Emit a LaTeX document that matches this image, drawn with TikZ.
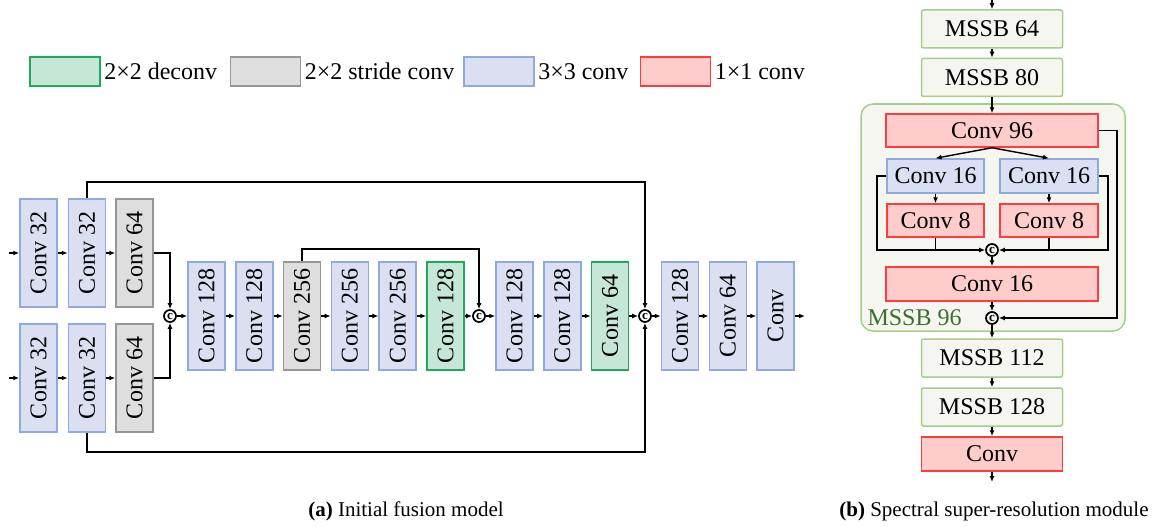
\documentclass[tikz,border=0pt]{standalone}
\usepackage{fontspec}
\setmainfont{Liberation Serif}
\usetikzlibrary{arrows.meta}
\definecolor{bluefill}{RGB}{218,224,242}
\definecolor{blueline}{RGB}{143,170,220}
\definecolor{grayfill}{RGB}{222,222,222}
\definecolor{grayline}{RGB}{150,150,150}
\definecolor{greenfill}{RGB}{198,231,213}
\definecolor{greenline}{RGB}{30,170,90}
\definecolor{redfill}{RGB}{255,204,204}
\definecolor{redline}{RGB}{255,60,60}
\definecolor{mssbfill}{RGB}{245,246,240}
\definecolor{mssbline}{RGB}{165,205,140}
\definecolor{mssblabel}{RGB}{60,110,50}

\begin{document}
\begin{tikzpicture}[x=1pt,y=-1pt,
  every node/.style={font=\rmfamily\fontsize{24}{28}\selectfont},
  >={Latex[length=6pt,width=5pt]},
  conn/.style={line width=1.4pt},
  vbox/.style={draw,line width=1.5pt,minimum width=37pt,minimum height=108pt,inner sep=0pt},
  hbox/.style={draw,line width=1.5pt,minimum height=34pt,inner sep=0pt},
  keybox/.style={draw,line width=1.5pt,minimum width=70pt,minimum height=29pt,inner sep=0pt},
  blueb/.style={fill=bluefill,draw=blueline},
  grayb/.style={fill=grayfill,draw=grayline},
  greenb/.style={fill=greenfill,draw=greenline},
  redb/.style={fill=redfill,draw=redline},
  mssb/.style={hbox,fill=mssbfill,draw=mssbline,rounded corners=2pt,minimum width=141pt,minimum height=38pt},
  cat/.style={circle,draw,line width=1.7pt,inner sep=0pt,minimum size=12pt,font=\rmfamily\fontsize{13}{13}\selectfont\bfseries},
  caption/.style={font=\rmfamily\fontsize{21}{25}\selectfont}]
\useasboundingbox (0,0) rectangle (1160,527);

\node[keybox,greenb] (kdeconv) at (65,71.5) {};
\node[anchor=west] (tdeconv) at (kdeconv.east) {2×2 deconv};
\node[keybox,grayb] (kstride) at (265.5,71.5) {};
\node[anchor=west] (tstride) at (kstride.east) {2×2 stride conv};
\node[keybox,blueb] (kthree) at (499,71.5) {};
\node[anchor=west] (tthree) at (kthree.east) {3×3 conv};
\node[keybox,redb] (kone) at (675.5,71.5) {};
\node[anchor=west] (tone) at (kone.east) {1×1 conv};

\coordinate (ina) at (9,253);
\coordinate (inb) at (9,378);
\node[vbox,blueb] (a1) at (38.5,253) {\rotatebox{90}{Conv 32}};
\node[vbox,blueb] (a2) at (87,253) {\rotatebox{90}{Conv 32}};
\node[vbox,grayb] (a3) at (134.5,253) {\rotatebox{90}{Conv 64}};
\node[vbox,blueb] (b1) at (38.5,378) {\rotatebox{90}{Conv 32}};
\node[vbox,blueb] (b2) at (87,378) {\rotatebox{90}{Conv 32}};
\node[vbox,grayb] (b3) at (134.5,378) {\rotatebox{90}{Conv 64}};
\node[cat] (c1) at (170,316) {c};
\node[vbox,blueb] (m1) at (206.5,316) {\rotatebox{90}{Conv 128}};
\node[vbox,blueb] (m2) at (254.3,316) {\rotatebox{90}{Conv 128}};
\node[vbox,grayb] (m3) at (302,316) {\rotatebox{90}{Conv 256}};
\node[vbox,blueb] (m4) at (349.9,316) {\rotatebox{90}{Conv 256}};
\node[vbox,blueb] (m5) at (397.7,316) {\rotatebox{90}{Conv 256}};
\node[vbox,greenb] (m6) at (445.5,316) {\rotatebox{90}{Conv 128}};
\node[cat] (c2) at (479,316) {c};
\node[vbox,blueb] (m7) at (514.5,316) {\rotatebox{90}{Conv 128}};
\node[vbox,blueb] (m8) at (562.3,316) {\rotatebox{90}{Conv 128}};
\node[vbox,greenb] (m9) at (610,316) {\rotatebox{90}{Conv 64}};
\node[cat] (c3) at (645,316) {c};
\node[vbox,blueb] (m10) at (680,316) {\rotatebox{90}{Conv 128}};
\node[vbox,blueb] (m11) at (727.8,316) {\rotatebox{90}{Conv 64}};
\node[vbox,blueb] (m12) at (775.5,316) {\rotatebox{90}{Conv}};
\coordinate (outa) at (805,316);
\coordinate (skiptop) at (645,182);
\coordinate (skipbot) at (645,452);
\coordinate (skipmid) at (479,249);

\draw[conn,->] (ina) -- (a1);
\draw[conn,->] (a1) -- (a2);
\draw[conn,->] (a2) -- (a3);
\draw[conn,->] (inb) -- (b1);
\draw[conn,->] (b1) -- (b2);
\draw[conn,->] (b2) -- (b3);
\draw[conn,->] (a3.east) -| (c1.north);
\draw[conn,->] (b3.east) -| (c1.south);
\draw[conn,->] (c1) -- (m1);
\draw[conn,->] (m1) -- (m2);
\draw[conn,->] (m2) -- (m3);
\draw[conn,->] (m3) -- (m4);
\draw[conn,->] (m4) -- (m5);
\draw[conn,->] (m5) -- (m6);
\draw[conn,->] (m6) -- (c2);
\draw[conn,->] (c2) -- (m7);
\draw[conn,->] (m7) -- (m8);
\draw[conn,->] (m8) -- (m9);
\draw[conn,->] (m9) -- (c3);
\draw[conn,->] (c3) -- (m10);
\draw[conn,->] (m10) -- (m11);
\draw[conn,->] (m11) -- (m12);
\draw[conn,->] (m12) -- (outa);
\draw[conn,->] (a2.north) |- (skiptop) -- (c3.north);
\draw[conn,->] (b2.south) |- (skipbot) -- (c3.south);
\draw[conn,->] (m3.north) |- (skipmid) -- (c2.north);

\node[draw=mssbline,fill=mssbfill,line width=1.5pt,rounded corners=12pt,minimum width=264pt,minimum height=227pt] (ms96) at (993,217.5) {};
\node[anchor=west,text=mssblabel] (lbl96) at (864,318) {MSSB 96};
\coordinate (inr) at (992,0);
\node[mssb] (ms64) at (992,29) {MSSB 64};
\node[mssb] (ms80) at (992,77.5) {MSSB 80};
\node[hbox,redb,minimum width=212pt,minimum height=33pt] (cv96) at (992,130.5) {Conv 96};
\node[hbox,blueb,minimum width=97pt] (cv16l) at (935.5,176) {Conv 16};
\node[hbox,blueb,minimum width=98pt] (cv16r) at (1049,176) {Conv 16};
\node[hbox,redb,minimum width=97pt,minimum height=33pt] (cv8l) at (935.5,220.5) {Conv 8};
\node[hbox,redb,minimum width=98pt,minimum height=33pt] (cv8r) at (1049,220.5) {Conv 8};
\node[cat] (c4) at (992,250) {c};
\node[hbox,redb,minimum width=212pt] (cv16) at (992,284) {Conv 16};
\node[cat] (c5) at (992,318) {c};
\node[mssb] (ms112) at (992,358) {MSSB 112};
\node[mssb] (ms128) at (992,407) {MSSB 128};
\node[hbox,redb,minimum width=141pt] (cvout) at (992,454) {Conv};
\coordinate (outr) at (992,482);
\coordinate (sl) at (877,176);
\coordinate (sr) at (1108,176);
\coordinate (sw) at (1117,130.5);

\draw[conn,->] (inr) -- (ms64);
\draw[conn,->] (ms64) -- (ms80);
\draw[conn,->] (ms80) -- (cv96);
\draw[conn,->] (cv96.south) -- (cv16l.north);
\draw[conn,->] (cv96.south) -- (cv16r.north);
\draw[conn,->] (cv16l) -- (cv8l);
\draw[conn,->] (cv16r) -- (cv8r);
\draw[conn,->] (cv16l.west) -- (sl) |- (c4.west);
\draw[conn,->] (cv16r.east) -- (sr) |- (c4.east);
\draw[conn] (cv8l.south) -- (cv8l.south |- c4);
\draw[conn] (cv8r.south) -- (cv8r.south |- c4);
\draw[conn,->] (c4) -- (cv16);
\draw[conn,->] (cv16) -- (c5);
\draw[conn,->] (cv96.east) -- (sw) |- (c5.east);
\draw[conn,->] (c5) -- (ms112);
\draw[conn,->] (ms112) -- (ms128);
\draw[conn,->] (ms128) -- (cvout);
\draw[conn,->] (cvout) -- (outr);

\node[caption] (capa) at (406,511) {\textbf{(a)} Initial fusion model};
\node[caption] (capb) at (994,511) {\textbf{(b)} Spectral super-resolution module};
\end{tikzpicture}
\end{document}
